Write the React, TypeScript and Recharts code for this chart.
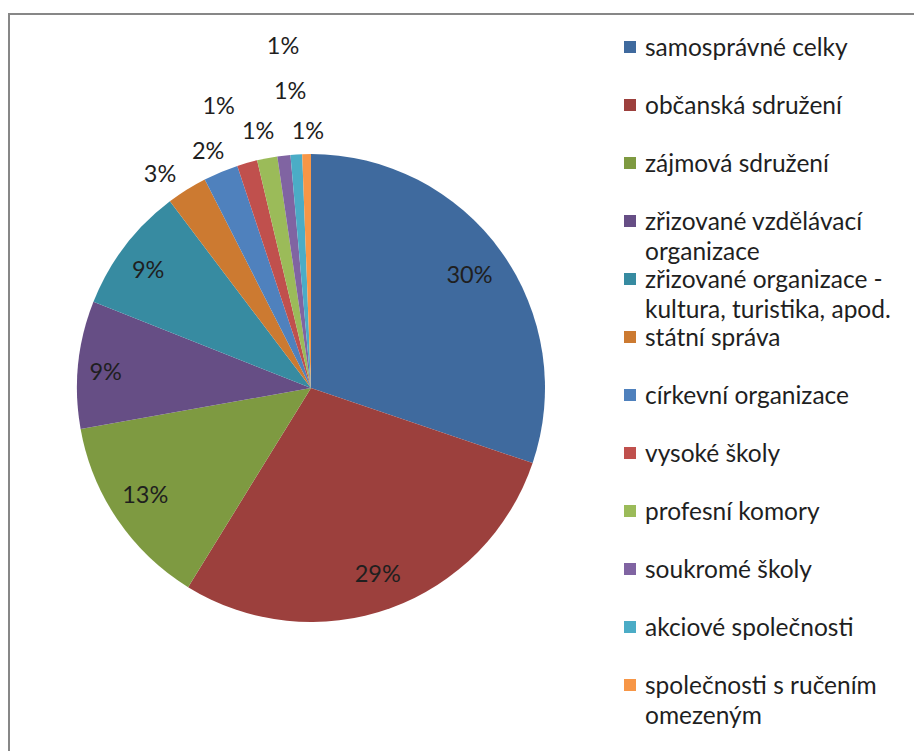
import { PieChart, Pie, Cell, Legend } from "recharts";

const categories = [
  "samosprávné celky",
  "občanská sdružení",
  "zájmová sdružení",
  "zřizované vzdělávací organizace",
  "zřizované organizace - kultura, turistika, apod.",
  "státní správa",
  "církevní organizace",
  "vysoké školy",
  "profesní komory",
  "soukromé školy",
  "akciové společnosti",
  "společnosti s ručením omezeným",
];

// share of each category in percent
const shares = [30.2, 28.6, 13.4, 8.8, 8.7, 2.8, 2.4, 1.4, 1.4, 0.9, 0.8, 0.6];

const colors = [
  "#3f6a9e",
  "#9c403d",
  "#7e9a41",
  "#664e85",
  "#378ba1",
  "#cc7a31",
  "#4f81bd",
  "#c0504d",
  "#9bbb59",
  "#8064a2",
  "#4bacc6",
  "#f79646",
];

// label placement (best-fit like): distance from the rim and small angle nudge
const labelOffset = [-39, -37, -37, -28, -32, 29, 25, 64, 29, 110, 65, 24];
const labelNudge = [0, 0, -1.5, 1, 1, 3, 0.7, 2.2, 0.8, -2, 0.4, -0.4];

const FONT = "Lato, 'Open Sans', sans-serif";
const RAD = Math.PI / 180;

const data = categories.map((name, i) => ({ name, value: shares[i] }));

function renderLabel(props: any) {
  const { cx, cy, midAngle, outerRadius, percent, index } = props;
  const r = outerRadius + labelOffset[index];
  const a = (midAngle + labelNudge[index]) * RAD;
  const x = cx + r * Math.cos(a);
  const y = cy - r * Math.sin(a);
  return (
    <text
      x={x}
      y={y}
      textAnchor="middle"
      dominantBaseline="central"
      fill="#1f1f1f"
      fontSize={23.5}
      fontFamily={FONT}
    >
      {`${Math.round(percent * 100)}%`}
    </text>
  );
}

// legend keeps the series order (recharts would sort it by name)
function LegendList() {
  return (
    <div style={{ fontFamily: FONT, fontSize: 24.5, color: "#1f1f1f" }}>
      {categories.map((name, i) => (
        <div key={name} style={{ height: 58, position: "relative" }}>
          <span
            style={{
              position: "absolute",
              left: 2,
              top: 9,
              width: 12,
              height: 12,
              background: colors[i],
            }}
          />
          <div
            style={{
              position: "absolute",
              left: 23,
              top: 0,
              width: 272,
              lineHeight: "30px",
              whiteSpace: "normal",
            }}
          >
            {name}
          </div>
        </div>
      ))}
    </div>
  );
}

export default function App() {
  return (
    <div>
      <div
        style={{
          position: "fixed",
          left: 8,
          top: 13,
          width: 940,
          height: 780,
          borderLeft: "2px solid #878787",
          borderTop: "2px solid #878787",
          background: "#fff",
        }}
      />
      <div style={{ position: "fixed", left: 0, top: 0 }}>
        <PieChart width={914} height={751} margin={{ top: 0, right: 0, bottom: 0, left: 0 }}>
          <Pie
            data={data}
            dataKey="value"
            nameKey="name"
            cx={311}
            cy={388}
            outerRadius={234}
            startAngle={90}
            endAngle={-270}
            stroke="none"
            label={renderLabel}
            labelLine={false}
            isAnimationActive={false}
          >
            {data.map((d, i) => (
              <Cell key={d.name} fill={colors[i]} />
            ))}
          </Pie>
          <Legend
            layout="vertical"
            align="right"
            verticalAlign="top"
            content={<LegendList />}
            wrapperStyle={{ left: 622, top: 32, width: 292 }}
          />
        </PieChart>
      </div>
    </div>
  );
}
